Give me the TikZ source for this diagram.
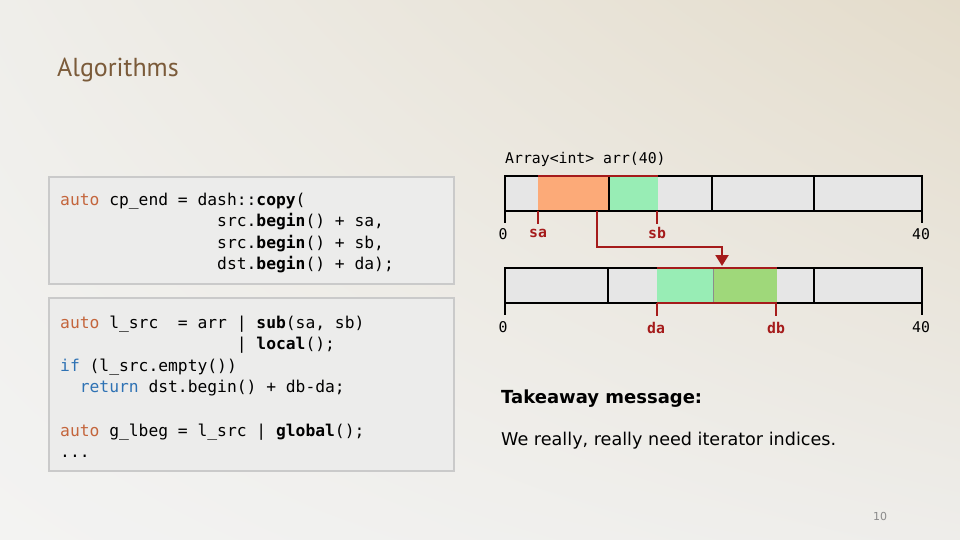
\documentclass[tikz,border=0pt]{standalone}
\usepackage{fontspec}
\setmainfont{DejaVu Sans}
\setmonofont{DejaVu Sans Mono}
\newfontfamily\titlefont{PT Sans}
\usepackage{xcolor}
\usepackage{tikz}
\usetikzlibrary{arrows.meta,positioning,calc,shadings}
\definecolor{BgTopLeft}{HTML}{EFEEEA}
\definecolor{BgTopRight}{HTML}{E4DCCB}
\definecolor{BgLowLeft}{HTML}{F3F3F2}
\definecolor{BgLowRight}{HTML}{EEEDEA}
\definecolor{TitleBrown}{HTML}{7B5B3A}
\definecolor{CodeFill}{HTML}{ECECEB}
\definecolor{CodeBorder}{HTML}{CACACA}
\definecolor{AutoOrange}{HTML}{C4653C}
\definecolor{FlowBlue}{HTML}{2E72B4}
\definecolor{CellGray}{HTML}{E6E6E6}
\definecolor{SrcOrange}{HTML}{FCAA78}
\definecolor{CopyGreen}{HTML}{98EDB5}
\definecolor{DstGreen}{HTML}{9FD87A}
\definecolor{RangeRed}{HTML}{A51B1B}
\definecolor{PageGray}{HTML}{8A8A8A}
\newcommand{\kwauto}[1]{\textcolor{AutoOrange}{#1}}
\newcommand{\kwflow}[1]{\textcolor{FlowBlue}{#1}}
\newcommand{\fnb}[1]{\textbf{#1}}
\newcommand{\indentcols}[1]{\hphantom{#1}}
\tikzset{
  codebox/.style={draw=CodeBorder, line width=2pt, fill=CodeFill},
  codetext/.style={anchor=base west, inner sep=0pt,
    font=\ttfamily\fontsize{16.3}{21.6}\selectfont},
  cellbar/.style={draw=black, line width=1.3pt},
  divider/.style={draw=black, line width=1.1pt},
  rangeline/.style={draw=RangeRed, line width=2.4pt},
  endtick/.style={draw=black, line width=1.3pt},
  rangetick/.style={draw=RangeRed, line width=2.2pt},
  idxlabel/.style={inner sep=0pt, font=\ttfamily\fontsize{14.8}{16}\selectfont},
  rangelabel/.style={idxlabel, text=RangeRed, font=\ttfamily\bfseries\fontsize{14.8}{16}\selectfont},
  copyarrow/.style={draw=RangeRed, line width=2.2pt, -{Triangle[width=13pt,length=11pt]}},
  msgtext/.style={anchor=base west, inner sep=0pt},
}
\begin{document}
\begin{tikzpicture}[x=1pt, y=-1pt, >=Latex]
  \shade[upper left=BgTopLeft, upper right=BgTopRight, lower left=BgLowLeft, lower right=BgLowRight]
    (0,0) rectangle (960,540);
  \useasboundingbox (0,0) rectangle (960,540);

  \node[anchor=base west, inner sep=0pt, text=TitleBrown, font=\titlefont\fontsize{26}{30}\selectfont]
    (title) at (57,77) {Algorithms};

  % code boxes
  \draw[codebox] (49,177) rectangle (454,284);
  \node[codetext] (copyline0) at (60,205) {\kwauto{auto} cp\_end = dash::\fnb{copy}(};
  \node[codetext] (copyline1) at (60,226.6) {\indentcols{xxxxxxxxxxxxxxxx}src.\fnb{begin}() + sa,};
  \node[codetext] (copyline2) at (60,248.2) {\indentcols{xxxxxxxxxxxxxxxx}src.\fnb{begin}() + sb,};
  \node[codetext] (copyline3) at (60,269.8) {\indentcols{xxxxxxxxxxxxxxxx}dst.\fnb{begin}() + da);};

  \draw[codebox] (49,298) rectangle (454,471);
  \node[codetext] (localline0) at (60,328) {\kwauto{auto} l\_src\indentcols{xx}= arr | \fnb{sub}(sa, sb)};
  \node[codetext] (localline1) at (60,349.6) {\indentcols{xxxxxxxxxxxxxxxxxx}| \fnb{local}();};
  \node[codetext] (localline2) at (60,371.2) {\kwflow{if} (l\_src.empty())};
  \node[codetext] (localline3) at (60,392.8) {\indentcols{xx}\kwflow{return} dst.begin() + db-da;};
  \node[codetext] (localline5) at (60,436) {\kwauto{auto} g\_lbeg = l\_src | \fnb{global}();};
  \node[codetext] (localline6) at (60,457.6) {...};

  % source array
  \node[anchor=base west, inner sep=0pt, font=\ttfamily\fontsize{14.8}{16}\selectfont]
    (arrdecl) at (505,164) {Array<int> arr(40)};
  \fill[CellGray] (505,176) rectangle (922,211);
  \fill[SrcOrange] (538,176) rectangle (609,211);
  \fill[CopyGreen] (609,176) rectangle (658,211);
  \draw[cellbar] (505,176) rectangle (922,211);
  \foreach \x in {609,712,814}
    \draw[divider] (\x,176) -- (\x,211);
  \draw[rangeline] (538,176) -- (658,176);
  \draw[endtick] (505,211) -- (505,223);
  \draw[endtick] (922,211) -- (922,223);
  \draw[rangetick] (538,211) -- (538,224);
  \draw[rangetick] (657,211) -- (657,224);
  \node[idxlabel] (srczero) at (503,234) {0};
  \node[rangelabel] (salabel) at (538,233) {sa};
  \node[rangelabel] (sblabel) at (657,233) {sb};
  \node[idxlabel] (srcforty) at (921,234) {40};

  % destination array
  \fill[CellGray] (505,268) rectangle (922,303);
  \fill[CopyGreen] (657,268) rectangle (713,303);
  \fill[DstGreen] (713,268) rectangle (777,303);
  \draw[cellbar] (505,268) rectangle (922,303);
  \foreach \x in {608,814}
    \draw[divider] (\x,268) -- (\x,303);
  \draw[draw=black!45, line width=1pt] (713,268) -- (713,303);
  \draw[rangeline] (657,268) -- (777,268);
  \draw[rangeline] (657,303) -- (777,303);
  \draw[endtick] (505,303) -- (505,315);
  \draw[endtick] (922,303) -- (922,315);
  \draw[rangetick] (657,303) -- (657,316);
  \draw[rangetick] (776,303) -- (776,316);
  \node[idxlabel] (dstzero) at (503,327) {0};
  \node[rangelabel] (dalabel) at (656,328) {da};
  \node[rangelabel] (dblabel) at (776,328) {db};
  \node[idxlabel] (dstforty) at (921,327) {40};

  % copy arrow
  \coordinate (srcmid) at (597,211);
  \coordinate (srcbend) at (597,247);
  \coordinate (dsttop) at (722,266);
  \draw[copyarrow] (srcmid) -- (srcbend) -| (dsttop);

  % message
  \node[msgtext, font=\bfseries\fontsize{18}{21}\selectfont]
    (takeaway) at (501,403) {Takeaway message:};
  \node[msgtext, font=\fontsize{17.6}{21}\selectfont]
    (message) at (501,445) {We really, really need iterator indices.};

  \node[anchor=base, inner sep=0pt, text=PageGray, font=\fontsize{11}{13}\selectfont]
    (pagenum) at (880,520) {10};
\end{tikzpicture}
\end{document}
